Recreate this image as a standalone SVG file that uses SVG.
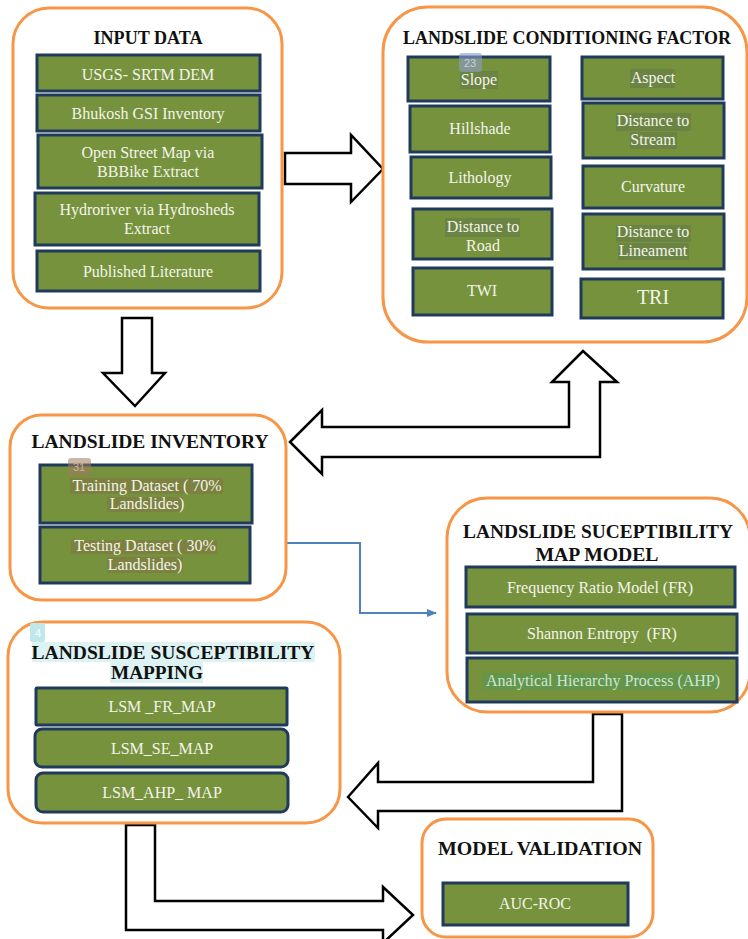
<svg xmlns="http://www.w3.org/2000/svg" width="748" height="939" viewBox="0 0 748 939">
<style>
.cont{fill:#fff;stroke:#F79646;stroke-width:3}
.box{fill:#76923C;stroke:#1F3A5A;stroke-width:3}
.ttl{font-family:"Liberation Serif","Times New Roman",serif;font-weight:bold;font-size:19px;fill:#111;text-anchor:middle}
.lbl{font-family:"Liberation Serif","Times New Roman",serif;font-size:16px;fill:#F4F4EC;text-anchor:middle}
.blk{fill:#fff;stroke:#000;stroke-width:2.5;stroke-linejoin:miter}
.hl{fill:#5a6a52;opacity:0.35}
.hlb{fill:#8a6248;opacity:0.35}
.badge{font-family:"Liberation Sans",Arial,sans-serif;font-size:11px;text-anchor:middle}
</style>
<defs>
<marker id="ah" markerWidth="10" markerHeight="10" refX="9" refY="5" orient="auto" markerUnits="userSpaceOnUse">
<path d="M0,1 L10,5 L0,9 z" fill="#4F81BD"/>
</marker>
</defs>

<g id="connectors">
<path class="blk" d="M285,153 L351,153 L351,135 L383,169 L351,202 L351,184 L285,184 Z"/>
<path class="blk" d="M122,318 L152,318 L152,373 L165,373 L135,406 L103,373 L122,373 Z"/>
<path class="blk" d="M290,442 L322,410 L322,427 L569,427 L569,382 L552,382 L583,351 L617,382 L600,382 L600,457 L322,457 L322,474 Z"/>
<path d="M286,543 L360,543 L360,613 L436,613" fill="none" stroke="#4F81BD" stroke-width="2" marker-end="url(#ah)"/>
<path class="blk" d="M348,797 L378,763 L378,782 L593,782 L593,714 L622,714 L622,811 L378,811 L378,828 Z"/>
<path class="blk" d="M126,825 L155,825 L155,901 L383,901 L383,887 L413,915 L383,943 L383,930 L126,930 Z"/>
</g>

<g id="input-data">
<rect class="cont" x="13" y="8" width="269" height="300" rx="36"/>
<text class="ttl" x="148" y="44" textLength="109" lengthAdjust="spacingAndGlyphs">INPUT DATA</text>
<rect class="box" x="37" y="55" width="223" height="36"/>
<text class="lbl" x="148" y="80">USGS- SRTM DEM</text>
<rect class="box" x="37" y="95" width="223" height="36"/>
<text class="lbl" x="148" y="119">Bhukosh GSI Inventory</text>
<rect class="box" x="38" y="135" width="224" height="53"/>
<text class="lbl" x="148" y="158">Open Street Map via</text>
<text class="lbl" x="148" y="177">BBBike Extract</text>
<rect class="box" x="35" y="193" width="224" height="52"/>
<text class="lbl" x="147" y="215">Hydroriver via Hydrosheds</text>
<text class="lbl" x="147" y="234">Extract</text>
<rect class="box" x="37" y="251" width="223" height="40"/>
<text class="lbl" x="148" y="277">Published Literature</text>
</g>

<g id="conditioning-factor">
<rect class="cont" x="383" y="7" width="364" height="335" rx="45"/>
<text class="ttl" x="567" y="44" textLength="328" lengthAdjust="spacingAndGlyphs">LANDSLIDE CONDITIONING FACTOR</text>
<rect class="box" x="408" y="57" width="142" height="44"/>
<rect class="hl" x="460" y="71" width="38" height="18"/>
<rect x="459" y="53" width="23" height="19" rx="3" fill="#8C9CCC" opacity="0.6"/>
<text class="badge" x="470" y="67" fill="#c8cce0">23</text>
<text class="lbl" x="479" y="85">Slope</text>
<rect class="box" x="410" y="106" width="140" height="46"/>
<text class="lbl" x="480" y="134">Hillshade</text>
<rect class="box" x="411" y="157" width="140" height="41"/>
<text class="lbl" x="480" y="183">Lithology</text>
<rect class="box" x="413" y="209" width="139" height="50"/>
<rect class="hl" x="445" y="218" width="75" height="19"/>
<text class="lbl" x="483" y="232">Distance to</text>
<text class="lbl" x="483" y="251">Road</text>
<rect class="box" x="413" y="268" width="139" height="47"/>
<text class="lbl" x="482" y="296">TWI</text>
<rect class="box" x="582" y="57" width="141" height="42"/>
<rect class="hl" x="630" y="69" width="45" height="19"/>
<text class="lbl" x="653" y="83">Aspect</text>
<rect class="box" x="583" y="103" width="141" height="55"/>
<rect class="hl" x="616" y="113" width="75" height="18"/>
<rect class="hl" x="630" y="132" width="47" height="17"/>
<text class="lbl" x="653" y="126">Distance to</text>
<text class="lbl" x="653" y="145">Stream</text>
<rect class="box" x="583" y="166" width="140" height="42"/>
<text class="lbl" x="653" y="192">Curvature</text>
<rect class="box" x="583" y="214" width="141" height="55"/>
<rect class="hl" x="616" y="225" width="75" height="17"/>
<rect class="hl" x="618" y="243" width="71" height="17"/>
<text class="lbl" x="653" y="237">Distance to</text>
<text class="lbl" x="653" y="256">Lineament</text>
<rect class="box" x="581" y="279" width="142" height="39"/>
<text class="lbl" x="653" y="304" style="font-size:20px">TRI</text>
</g>

<g id="landslide-inventory">
<rect class="cont" x="10" y="415" width="276" height="185" rx="32"/>
<text class="ttl" x="150" y="448" textLength="237" lengthAdjust="spacingAndGlyphs">LANDSLIDE INVENTORY</text>
<rect class="box" x="40" y="465" width="212" height="58"/>
<rect x="68" y="458" width="23" height="18" rx="3" fill="#A07A60" opacity="0.55"/>
<text class="badge" x="79" y="471" fill="#c9b2a2">31</text>
<rect class="hlb" x="70" y="478" width="153" height="16"/>
<rect class="hlb" x="107" y="497" width="76" height="15"/>
<text class="lbl" x="147" y="491">Training Dataset ( 70%</text>
<text class="lbl" x="147" y="509">Landslides)</text>
<rect class="box" x="40" y="527" width="210" height="56"/>
<rect class="hlb" x="71" y="540" width="146" height="14"/>
<rect class="hlb" x="107" y="557" width="76" height="16"/>
<text class="lbl" x="145" y="551">Testing Dataset ( 30%</text>
<text class="lbl" x="145" y="570">Landslides)</text>
</g>

<g id="lsm-model">
<rect class="cont" x="447" y="498" width="303" height="214" rx="40"/>
<text class="ttl" x="598" y="538" textLength="270" lengthAdjust="spacingAndGlyphs">LANDSLIDE SUCEPTIBILITY</text>
<text class="ttl" x="597" y="561" textLength="123" lengthAdjust="spacingAndGlyphs">MAP MODEL</text>
<rect class="box" x="466" y="567" width="269" height="40"/>
<text class="lbl" x="600" y="593">Frequency Ratio Model (FR)</text>
<rect class="box" x="467" y="614" width="270" height="39"/>
<text class="lbl" x="602" y="639" xml:space="preserve">Shannon Entropy  (FR)</text>
<rect class="box" x="467" y="658" width="270" height="44"/>
<rect x="483" y="673" width="235" height="17" fill="#4E9A5A" opacity="0.45"/>
<text class="lbl" x="603" y="686" style="fill:#CFE6D6">Analytical Hierarchy Process (AHP)</text>
</g>

<g id="lsm-mapping">
<rect class="cont" x="8" y="622" width="332" height="201" rx="34"/>
<rect x="30" y="623" width="15" height="19" rx="2" fill="#BFE8EA"/>
<text class="badge" x="38" y="637" fill="#f4ffff">4</text>
<rect x="32" y="642" width="283" height="20" fill="#DDF3F3"/>
<rect x="110" y="662" width="93" height="21" fill="#DDF3F3"/>
<text class="ttl" x="173" y="659" textLength="283" lengthAdjust="spacingAndGlyphs">LANDSLIDE SUSCEPTIBILITY</text>
<text class="ttl" x="157" y="679" textLength="92" lengthAdjust="spacingAndGlyphs">MAPPING</text>
<rect class="box" x="36" y="688" width="251" height="37" rx="1"/>
<text class="lbl" x="162" y="712">LSM _FR_MAP</text>
<rect class="box" x="35" y="729" width="253" height="38" rx="7"/>
<text class="lbl" x="162" y="754">LSM_SE_MAP</text>
<rect class="box" x="36" y="773" width="252" height="39" rx="7"/>
<text class="lbl" x="162" y="798">LSM_AHP_ MAP</text>
</g>

<g id="model-validation">
<rect class="cont" x="422" y="819" width="231" height="118" rx="24"/>
<text class="ttl" x="540" y="855" textLength="204" lengthAdjust="spacingAndGlyphs">MODEL VALIDATION</text>
<rect class="box" x="443" y="883" width="185" height="42"/>
<text class="lbl" x="535" y="909">AUC-ROC</text>
</g>
</svg>
